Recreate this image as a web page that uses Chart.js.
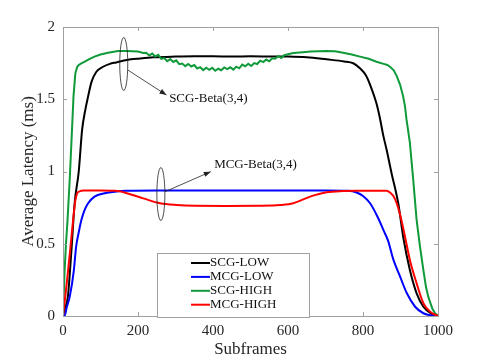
<!DOCTYPE html>
<html>
<head>
<meta charset="utf-8">
<script src="https://cdn.jsdelivr.net/npm/chart.js@4.4.1/dist/chart.umd.min.js"></script>
<style>
  html, body { margin: 0; padding: 0; background: #fff; }
  #wrap { width: 485px; height: 360px; position: relative; }
</style>
</head>
<body>
<div id="wrap"><canvas id="c" width="485" height="360"></canvas></div>
<script>
// ---------- data ----------
const seriesLabels = ['SCG-LOW', 'MCG-LOW', 'SCG-HIGH', 'MCG-HIGH'];
const seriesColors = ['#000000', '#0000ff', '#109a3a', '#ff0000'];

const xTicks = [0, 200, 400, 600, 800, 1000];
const xTickLabels = ['0', '200', '400', '600', '800', '1000'];
const yTickLabels = ['0', '0.5', '1', '1.5', '2'];

const scgLowX = [0, 5, 13, 22, 31, 42, 51, 59, 67, 76, 89, 107, 125, 142, 170, 205, 241, 300, 350, 400, 450, 500, 550, 600, 650, 703, 750, 774, 792, 808, 819, 836, 845, 854, 863, 876, 894, 907, 925, 943, 961, 983, 1000];
const scgLowY = [0, 0.05, 0.134, 0.436, 0.78, 1.0, 1.29, 1.42, 1.52, 1.62, 1.69, 1.725, 1.745, 1.755, 1.772, 1.782, 1.79, 1.795, 1.797, 1.797, 1.796, 1.797, 1.796, 1.795, 1.79, 1.776, 1.762, 1.749, 1.714, 1.665, 1.60, 1.47, 1.37, 1.25, 1.15, 0.99, 0.78, 0.55, 0.318, 0.157, 0.064, 0.014, 0];

const mcgLowX = [0, 4, 10, 18, 29, 35, 42, 49, 57, 67, 84, 111, 138, 170, 250, 400, 550, 700, 760, 783, 800, 819, 840, 857, 867, 881, 899, 917, 939, 961, 987, 1000];
const mcgLowY = [0, 0.0, 0.06, 0.134, 0.318, 0.48, 0.58, 0.664, 0.73, 0.78, 0.826, 0.849, 0.86, 0.866, 0.868, 0.868, 0.868, 0.868, 0.866, 0.855, 0.83, 0.78, 0.68, 0.58, 0.52, 0.39, 0.272, 0.157, 0.064, 0.019, 0.002, 0];

const scgHighX = [0, 4, 8, 12, 18, 24, 28, 33, 38, 42, 50, 58, 70, 84, 100, 120, 147, 170, 200, 214,
  222, 230, 238, 246, 254, 262, 270, 278, 286, 294, 302, 310, 318, 326, 334, 342, 350, 358, 366, 374,
  382, 390, 398, 406, 414, 422, 430, 438, 446, 454, 462, 470, 478, 486, 494, 502, 510, 518, 526, 534,
  542, 550, 558, 566, 574, 582, 590, 600, 614, 640, 660, 703, 725, 747, 770, 792, 815, 836, 855, 865,
  872, 882, 890, 899, 907, 912, 916, 925, 934, 943, 952, 961, 968, 974, 985, 992, 1000];
const scgHighY = [0, 0.3, 0.5, 0.66, 0.95, 1.29, 1.52, 1.68, 1.725, 1.737, 1.75, 1.76, 1.778, 1.795, 1.81, 1.822, 1.834, 1.834, 1.83, 1.82,
  1.821, 1.803, 1.816, 1.796, 1.808, 1.779, 1.785, 1.764, 1.778, 1.758, 1.769, 1.743, 1.747, 1.729, 1.744, 1.727, 1.737, 1.713, 1.722, 1.702,
  1.718, 1.704, 1.718, 1.697, 1.711, 1.701, 1.720, 1.709, 1.721, 1.705, 1.725, 1.714, 1.740, 1.728, 1.746, 1.730, 1.750, 1.744, 1.767, 1.757,
  1.775, 1.763, 1.784, 1.781, 1.799, 1.785, 1.805, 1.812, 1.82, 1.826, 1.83, 1.834, 1.832, 1.822, 1.81, 1.795, 1.78, 1.76, 1.745, 1.737,
  1.725, 1.70, 1.66, 1.60, 1.52, 1.45, 1.36, 1.2, 0.94, 0.664, 0.48, 0.318, 0.2, 0.134, 0.05, 0.02, 0];

const mcgHighX = [0, 6, 13, 20, 27, 33, 38, 44, 55, 100, 140, 170, 214, 259, 303, 350, 436, 520, 580, 614, 659, 703, 747, 780, 863, 872, 881, 890, 899, 912, 925, 943, 961, 979, 1000];
const mcgHighY = [0, 0.134, 0.3, 0.48, 0.664, 0.80, 0.85, 0.862, 0.868, 0.868, 0.866, 0.85, 0.814, 0.78, 0.768, 0.763, 0.762, 0.763, 0.768, 0.78, 0.826, 0.856, 0.865, 0.867, 0.867, 0.855, 0.83, 0.78, 0.70, 0.549, 0.388, 0.226, 0.088, 0.03, 0];

// annotations (data coordinates)
const annoTexts = ['SCG-Beta(3,4)', 'MCG-Beta(3,4)'];
const annoEllipse = [[162, 1.744], [261, 0.844]];
const annoArrowFrom = [[173, 1.702], [272, 0.860]];
const annoArrowTo = [[276, 1.529], [394, 0.999]];
const annoTextAt = [[283, 1.504], [403, 1.045]];

// ---------- chart ----------
const FONT = "'Liberation Serif', 'Times New Roman', serif";
const AXIS_COLOR = '#a0a0a0';
const TEXT_COLOR = '#262626';

function pts(xs, ys) { return xs.map((x, i) => ({ x: x, y: ys[i] })); }

const seriesX = [scgLowX, mcgLowX, scgHighX, mcgHighX];
const seriesY = [scgLowY, mcgLowY, scgHighY, mcgHighY];

const datasets = seriesLabels.map((lab, i) => ({
  label: lab,
  data: pts(seriesX[i], seriesY[i]),
  borderColor: seriesColors[i],
  backgroundColor: seriesColors[i],
  borderWidth: 2,
  pointRadius: 0,
  fill: false,
  cubicInterpolationMode: i === 2 ? 'default' : 'monotone',
  tension: 0,
  order: 4 - i
}));

const framePlugin = {
  id: 'frame',
  afterDatasetsDraw(chart) {
    const ctx = chart.ctx;
    const a = chart.chartArea;
    const xs = chart.scales.x, ys = chart.scales.y;
    ctx.save();
    // box
    ctx.strokeStyle = AXIS_COLOR;
    ctx.lineWidth = 1;
    ctx.strokeRect(Math.round(a.left) + 0.5, Math.round(a.top) + 0.5,
      Math.round(a.right - a.left), Math.round(a.bottom - a.top));
    // inward ticks
    const tl = 4;
    ctx.beginPath();
    xTicks.forEach(v => {
      const px = Math.round(xs.getPixelForValue(v)) + 0.5;
      ctx.moveTo(px, a.bottom); ctx.lineTo(px, a.bottom - tl);
      ctx.moveTo(px, a.top); ctx.lineTo(px, a.top + tl);
    });
    yTickLabels.forEach(t => {
      const py = Math.round(ys.getPixelForValue(parseFloat(t))) + 0.5;
      ctx.moveTo(a.left, py); ctx.lineTo(a.left + tl, py);
      ctx.moveTo(a.right, py); ctx.lineTo(a.right - tl, py);
    });
    ctx.stroke();

    // annotations
    ctx.strokeStyle = '#222';
    ctx.fillStyle = '#222';
    ctx.lineWidth = 0.8;
    for (let i = 0; i < annoTexts.length; i++) {
      const ex = xs.getPixelForValue(annoEllipse[i][0]);
      const ey = ys.getPixelForValue(annoEllipse[i][1]);
      ctx.beginPath();
      ctx.ellipse(ex, ey, 4, 26.5, 0, 0, Math.PI * 2);
      ctx.stroke();
      const x1 = xs.getPixelForValue(annoArrowFrom[i][0]);
      const y1 = ys.getPixelForValue(annoArrowFrom[i][1]);
      const x2 = xs.getPixelForValue(annoArrowTo[i][0]);
      const y2 = ys.getPixelForValue(annoArrowTo[i][1]);
      ctx.beginPath();
      ctx.moveTo(x1, y1); ctx.lineTo(x2, y2);
      ctx.stroke();
      const ang = Math.atan2(y2 - y1, x2 - x1);
      const hl = 7, hw = 2.6;
      ctx.beginPath();
      ctx.moveTo(x2, y2);
      ctx.lineTo(x2 - hl * Math.cos(ang) + hw * Math.sin(ang), y2 - hl * Math.sin(ang) - hw * Math.cos(ang));
      ctx.lineTo(x2 - hl * Math.cos(ang) - hw * Math.sin(ang), y2 - hl * Math.sin(ang) + hw * Math.cos(ang));
      ctx.closePath();
      ctx.fill();
      ctx.font = "13px " + FONT;
      ctx.textAlign = 'left';
      ctx.textBaseline = 'middle';
      ctx.fillStyle = '#111';
      ctx.fillText(annoTexts[i], xs.getPixelForValue(annoTextAt[i][0]), ys.getPixelForValue(annoTextAt[i][1]));
      ctx.fillStyle = '#222';
    }

    // legend box
    const lx = a.left + 94, ly = a.top + 226, lw = 152, lh = 64;
    ctx.fillStyle = '#fff';
    ctx.fillRect(lx, ly, lw, lh);
    ctx.strokeStyle = AXIS_COLOR;
    ctx.lineWidth = 1;
    ctx.strokeRect(Math.round(lx) + 0.5, Math.round(ly) + 0.5, lw, lh);
    ctx.font = "13px " + FONT;
    ctx.textAlign = 'left';
    ctx.textBaseline = 'middle';
    chart.data.datasets.forEach((ds, i) => {
      const ry = ly + 10 + i * 13.9;
      ctx.strokeStyle = ds.borderColor;
      ctx.lineWidth = 2;
      ctx.beginPath();
      ctx.moveTo(lx + 34, ry); ctx.lineTo(lx + 53, ry);
      ctx.stroke();
      ctx.fillStyle = '#111';
      ctx.fillText(ds.label, lx + 53, ry);
    });
    ctx.restore();
  }
};

new Chart(document.getElementById('c'), {
  type: 'line',
  data: { datasets: datasets },
  options: {
    responsive: false,
    animation: false,
    layout: { padding: { top: 27, right: 47, left: 0, bottom: 0 } },
    plugins: { legend: { display: false }, tooltip: { enabled: false } },
    scales: {
      x: {
        type: 'linear', min: 0, max: 1000,
        afterBuildTicks(s) { s.ticks = xTicks.map(v => ({ value: v })); },
        afterFit(s) { s.height = 44; },
        grid: { display: false, drawTicks: false },
        border: { display: false },
        ticks: {
          font: { family: FONT, size: 15 }, color: TEXT_COLOR, padding: 6, maxRotation: 0, autoSkip: false,
          callback: (v, i) => xTickLabels[i]
        },
        title: { display: true, text: 'Subframes', font: { family: FONT, size: 17 }, color: TEXT_COLOR, padding: { top: 0, bottom: 0 } }
      },
      y: {
        type: 'linear', min: 0, max: 2,
        afterBuildTicks(s) { s.ticks = yTickLabels.map(t => ({ value: parseFloat(t) })); },
        afterFit(s) { s.width = 63; },
        grid: { display: false, drawTicks: false },
        border: { display: false },
        ticks: {
          font: { family: FONT, size: 15 }, color: TEXT_COLOR, padding: 8, autoSkip: false,
          callback: (v, i) => yTickLabels[i]
        },
        title: { display: true, text: 'Average Latency (ms)', font: { family: FONT, size: 17 }, color: TEXT_COLOR, padding: { top: 18, bottom: 0 } }
      }
    }
  },
  plugins: [framePlugin]
});
</script>
</body>
</html>
